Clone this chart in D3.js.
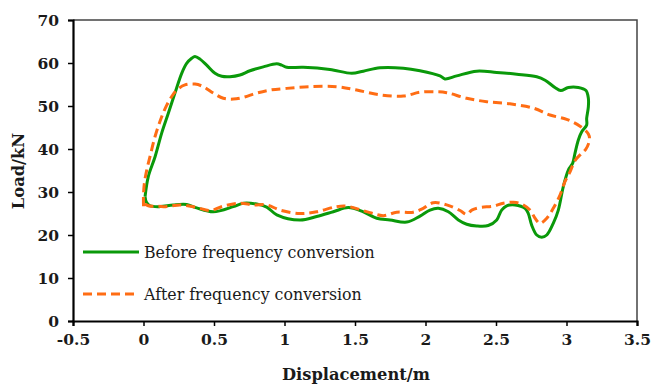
<!DOCTYPE html>
<html>
<head>
<meta charset="utf-8">
<script src="https://cdn.jsdelivr.net/npm/d3@7"></script>
<style>
  html, body { margin: 0; padding: 0; background: #fff; }
  svg text { font-family: "DejaVu Serif", "Liberation Serif", serif; fill: #1a1a1a; }
</style>
</head>
<body>
<div id="chart_div"></div>
<script>
// Series names (legend)
var seriesNames = ["Before frequency conversion", "After frequency conversion"];

// Before frequency conversion: displacement (m) and load (kN), traced around the loop
var dispBefore = [0.011, 0.034, 0.082, 0.129, 0.176, 0.223, 0.271, 0.306, 0.342, 0.365, 0.401, 0.448,
  0.507, 0.555, 0.613, 0.684, 0.755, 0.850, 0.945, 0.980, 1.016, 1.133, 1.322, 1.477, 1.559,
  1.677, 1.843, 1.961, 2.103, 2.138, 2.221, 2.363, 2.505, 2.647, 2.789, 2.848, 2.918, 2.959, 3.013,
  3.084, 3.138, 3.155, 3.155, 3.143, 3.143, 3.108, 3.084, 3.060, 3.044, 3.013, 2.977, 2.942, 2.906,
  2.860, 2.824, 2.789, 2.753, 2.729, 2.706, 2.635, 2.576, 2.540, 2.505, 2.445, 2.363, 2.292, 2.233,
  2.162, 2.091, 2.032, 1.961, 1.867, 1.748, 1.654, 1.559, 1.452, 1.346, 1.228, 1.110, 0.945, 0.874,
  0.803, 0.708, 0.637, 0.495, 0.377, 0.306, 0.211, 0.117, 0.046, 0.021, 0.011];
var loadBefore = [28.9, 33.6, 38.2, 43.7, 48.3, 53.0, 57.6, 59.9, 61.1, 61.5, 60.9, 59.5,
  57.6, 56.9, 56.8, 57.2, 58.2, 59.1, 59.8, 59.5, 59.0, 59.0, 58.5, 57.6, 58.1,
  58.9, 58.8, 58.2, 57.0, 56.3, 57.0, 58.1, 57.8, 57.4, 56.8, 56.0, 54.3, 53.6, 54.3,
  54.3, 53.6, 51.8, 49.8, 47.1, 45.6, 44.0, 42.1, 39.0, 36.7, 35.1, 31.2, 25.8, 22.7,
  20.0, 19.5, 20.0, 22.3, 25.0, 26.2, 27.0, 26.8, 25.8, 23.5, 22.2, 22.1, 22.5, 23.5,
  25.4, 26.2, 25.8, 24.4, 23.0, 23.5, 23.9, 25.4, 26.4, 25.4, 24.3, 23.5, 24.7, 26.5,
  27.2, 27.4, 26.6, 25.4, 26.3, 27.1, 27.0, 26.6, 26.8, 27.6, 28.9];

// After frequency conversion
var dispAfter = [0.000, 0.000, 0.006, 0.023, 0.046, 0.082, 0.129, 0.165, 0.200, 0.235, 0.294, 0.365,
  0.424, 0.495, 0.566, 0.637, 0.708, 0.803, 0.897, 1.016, 1.181, 1.370, 1.512, 1.677, 1.843, 1.961,
  2.079, 2.150, 2.292, 2.434, 2.599, 2.765, 2.883, 3.001, 3.096, 3.155, 3.163, 3.138, 3.108, 3.060,
  3.025, 2.989, 2.954, 2.906, 2.860, 2.812, 2.777, 2.741, 2.682, 2.623, 2.552, 2.481, 2.387, 2.328,
  2.292, 2.245, 2.150, 2.055, 1.984, 1.913, 1.796, 1.701, 1.606, 1.441, 1.370, 1.228, 1.110, 0.968,
  0.874, 0.779, 0.684, 0.566, 0.472, 0.377, 0.259, 0.165, 0.105, 0.034, 0.006, 0.000];
var loadAfter = [26.7, 29.3, 32.0, 35.1, 38.2, 42.9, 47.5, 50.2, 52.2, 53.7, 54.9, 55.1,
  54.5, 53.0, 51.8, 51.6, 52.0, 53.0, 53.7, 54.1, 54.5, 54.5, 53.7, 52.6, 52.3, 53.2,
  53.3, 53.1, 51.8, 51.0, 50.5, 49.5, 47.9, 46.9, 45.3, 43.5, 42.1, 40.0, 39.0, 37.3,
  34.7, 32.4, 29.3, 26.2, 23.9, 22.7, 23.9, 25.8, 27.2, 27.6, 27.4, 26.7, 26.4, 25.8,
  24.8, 25.7, 27.0, 27.5, 26.2, 25.3, 25.3, 24.5, 25.2, 26.7, 26.6, 25.4, 25.0, 25.8,
  27.0, 27.0, 27.4, 26.7, 25.7, 26.4, 27.0, 26.6, 26.7, 26.8, 27.4, 28.3];

// Axis ticks
var xTickValues = [-0.5, 0, 0.5, 1, 1.5, 2, 2.5, 3, 3.5];
var yTickValues = [0, 10, 20, 30, 40, 50, 60, 70];

var ru = (function (d3) {
  "use strict";

  var loc_width = 651,
      loc_height = 385,
      margin = { left: 73, top: 20, right: 14, bottom: 64 },
      colGreen = "#0a990a",
      colOrange = "#ff6d14";

  // Zip two arrays into point objects
  function zipPoints(aX, aY) {
    return aX.map(function (x, i) { return { x: x, y: aY[i] }; });
  }

  return {
    draw: function (sDiv) {
      var svg = null,
          x = null,
          y = null,
          line = null,
          iRight = loc_width - margin.right,
          iBottom = loc_height - margin.bottom;

      svg = d3.select(sDiv).append("svg")
              .attr("width", loc_width)
              .attr("height", loc_height);

      x = d3.scaleLinear().domain([-0.5, 3.5]).range([margin.left, iRight]);
      y = d3.scaleLinear().domain([0, 70]).range([iBottom, margin.top]);

      // Top and right frame lines (thin, grey)
      svg.append("path")
        .attr("d", "M" + margin.left + "," + margin.top + "H" + iRight + "V" + iBottom)
        .attr("fill", "none")
        .attr("stroke", "#444")
        .attr("stroke-width", 1.5);

      line = d3.line()
        .x(function (d) { return x(d.x); })
        .y(function (d) { return y(d.y); })
        .curve(d3.curveCatmullRom.alpha(0.5));

      // Curves
      svg.append("path")
        .datum(zipPoints(dispBefore, loadBefore))
        .attr("d", line)
        .attr("fill", "none")
        .attr("stroke", colGreen)
        .attr("stroke-width", 3);

      svg.append("path")
        .datum(zipPoints(dispAfter, loadAfter))
        .attr("d", line)
        .attr("fill", "none")
        .attr("stroke", colOrange)
        .attr("stroke-width", 3)
        .attr("stroke-dasharray", "9,5");

      // Axes
      var gX = svg.append("g")
        .attr("transform", "translate(0," + iBottom + ")")
        .call(d3.axisBottom(x).tickValues(xTickValues).tickSize(5).tickPadding(8)
              .tickFormat(function (d) { return String(d); }));
      var gY = svg.append("g")
        .attr("transform", "translate(" + margin.left + ",0)")
        .call(d3.axisLeft(y).tickValues(yTickValues).tickSize(5).tickPadding(9)
              .tickFormat(function (d) { return String(d); }));

      [gX, gY].forEach(function (g) {
        g.select(".domain").attr("stroke", "#000").attr("stroke-width", 2.2);
        g.selectAll(".tick line").attr("stroke", "#000").attr("stroke-width", 1.5);
        g.selectAll(".tick text")
          .attr("font-family", "DejaVu Serif")
          .attr("font-size", 15.5)
          .attr("font-weight", "bold")
          .attr("fill", "#1a1a1a");
      });
      gY.selectAll(".tick text").attr("dy", "0.36em");

      // Axis titles
      svg.append("text")
        .attr("x", (margin.left + iRight) / 2 + 1)
        .attr("y", 380)
        .attr("text-anchor", "middle")
        .attr("font-size", 16.3)
        .attr("font-weight", "bold")
        .text("Displacement/m");

      svg.append("text")
        .attr("transform", "translate(24,171) rotate(-90)")
        .attr("text-anchor", "middle")
        .attr("font-size", 16.3)
        .attr("font-weight", "bold")
        .text("Load/kN");

      // Legend
      var legend = svg.append("g");
      [[colGreen, null, 252, 258], [colOrange, "9,5", 294, 300]].forEach(function (o, i) {
        legend.append("line")
          .attr("x1", 83).attr("x2", 139)
          .attr("y1", o[2]).attr("y2", o[2])
          .attr("stroke", o[0])
          .attr("stroke-width", 3)
          .attr("stroke-dasharray", o[1]);
        legend.append("text")
          .attr("x", 144).attr("y", o[3])
          .attr("font-size", 15.8)
          .text(seriesNames[i]);
      });
    }
  };
}(d3));

ru.draw("#chart_div");
</script>
</body>
</html>
